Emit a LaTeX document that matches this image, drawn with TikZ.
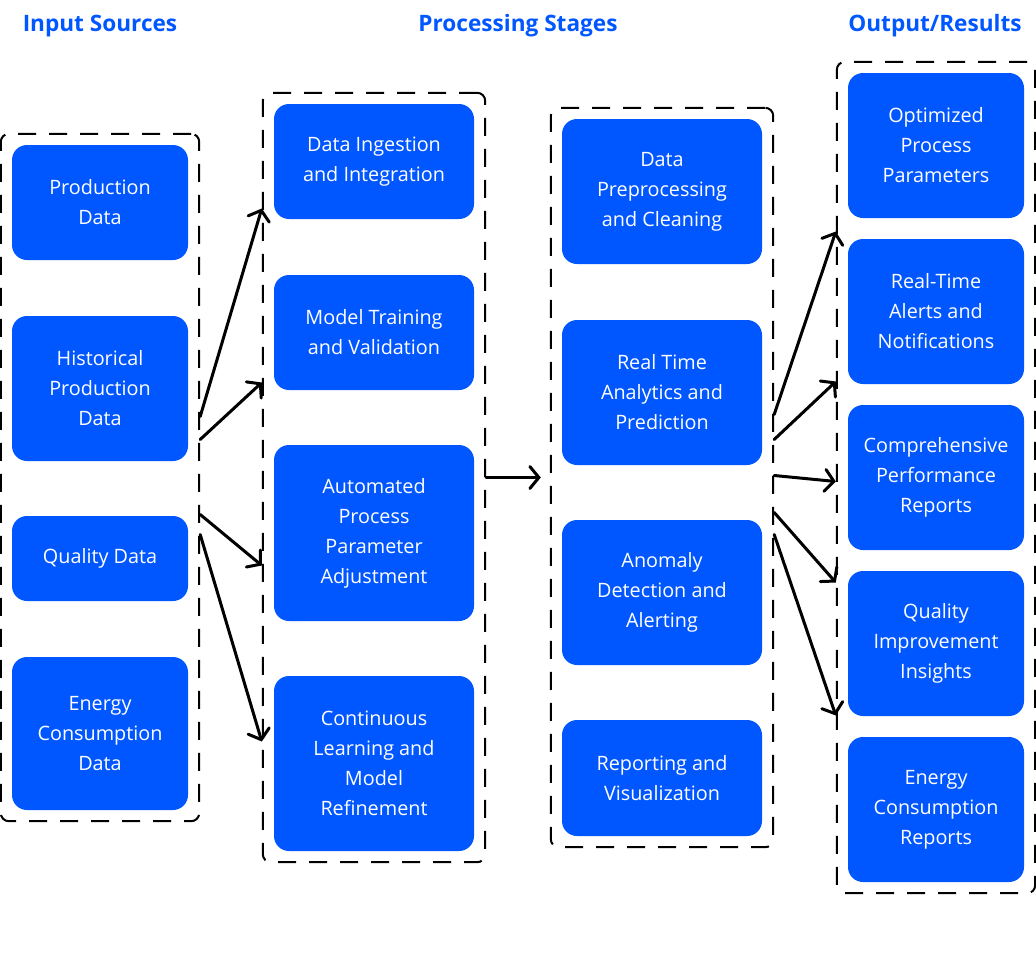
\documentclass[tikz,border=0pt]{standalone}
\usepackage{fontspec}
\setmainfont{Open Sans}
\usepackage{tikz}
\usetikzlibrary{calc,positioning,fit,arrows.meta}
\definecolor{blu}{HTML}{0057FF}
\tikzstyle{stage}   = [rectangle, rounded corners=15pt, fill=blu, text=white,
                       align=center, inner sep=0pt,
                       font=\fontsize{19.8}{30}\selectfont]
\tikzstyle{narrow}  = [stage, minimum width=176pt]
\tikzstyle{wide}    = [stage, minimum width=200pt]
\tikzstyle{group}   = [draw, line width=2pt, dash pattern=on 18pt off 13pt,
                       rounded corners=8pt, inner sep=11pt]
\tikzstyle{heading} = [text=blu, font=\fontsize{22.6}{27}\selectfont\bfseries]
\tikzstyle{ptr}     = [draw, line width=3pt, line cap=round,
                       -{Straight Barb[length=9pt,width=22pt,line cap=round]}]

\begin{document}
\begin{tikzpicture}[x=1pt, y=-1pt]
	\useasboundingbox (0,0) rectangle (1036,956);

	% headings
	\node[heading] (hin)  at (100,26) {Input Sources};
	\node[heading] (hpro) at (518,26) {Processing Stages};
	\node[heading] (hout) at (935,26) {Output/Results};

	% input sources
	\node[narrow, minimum height=115pt] (pd)  at (100,202.5) {Production\\Data};
	\node[narrow, minimum height=145pt] (hpd) at (100,388.5) {Historical\\Production\\Data};
	\node[narrow, minimum height=85pt]  (qd)  at (100,558.5) {Quality Data};
	\node[narrow, minimum height=153pt] (ecd) at (100,733.5) {Energy\\Consumption\\Data};
	\node[group, fit=(pd)(ecd)] (g1) {};

	% processing stages, first column
	\node[wide, minimum height=115pt] (ingest) at (374,161.5) {Data Ingestion\\and Integration};
	\node[wide, minimum height=115pt] (train)  at (374,332.5) {Model Training\\and Validation};
	\node[wide, minimum height=176pt] (adjust) at (374,533)   {Automated\\Process\\Parameter\\Adjustment};
	\node[wide, minimum height=175pt] (learn)  at (374,763.5) {Continuous\\Learning and\\Model\\Refinement};
	\node[group, fit=(ingest)(learn)] (g2) {};

	% processing stages, second column
	\node[wide, minimum height=145pt] (clean)   at (662,191.5) {Data\\Preprocessing\\and Cleaning};
	\node[wide, minimum height=145pt] (predict) at (662,392.5) {Real Time\\Analytics and\\Prediction};
	\node[wide, minimum height=145pt] (anomaly) at (662,592.5) {Anomaly\\Detection and\\Alerting};
	\node[wide, minimum height=116pt] (report)  at (662,778)   {Reporting and\\Visualization};
	\node[group, fit=(clean)(report)] (g3) {};

	% outputs
	\node[narrow, minimum height=145pt] (opt)   at (936,145.5) {Optimized\\Process\\Parameters};
	\node[narrow, minimum height=145pt] (alert) at (936,311.5) {Real-Time\\Alerts and\\Notifications};
	\node[narrow, minimum height=145pt] (perf)  at (936,477.5) {Comprehensive\\Performance\\Reports};
	\node[narrow, minimum height=145pt] (qual)  at (936,643.5) {Quality\\Improvement\\Insights};
	\node[narrow, minimum height=145pt] (ecr)   at (936,809.5) {Energy\\Consumption\\Reports};
	\node[group, fit=(opt)(ecr)] (g4) {};

	% arrows
	\draw[ptr] ([yshift=61pt]g1.east)  -- ([yshift=269pt]g2.west);
	\draw[ptr] ([yshift=38pt]g1.east)  -- ([yshift=95pt]g2.west);
	\draw[ptr] ([yshift=-37pt]g1.east) -- ([yshift=-88pt]g2.west);
	\draw[ptr] ([yshift=-57pt]g1.east) -- ([yshift=-264pt]g2.west);

	\draw[ptr, shorten >=9pt] (g2.east) -- (g3.west);

	\draw[ptr] ([yshift=63pt]g3.east)  -- ([yshift=246pt]g4.west);
	\draw[ptr] ([yshift=38pt]g3.east)  -- ([yshift=96pt]g4.west);
	\draw[ptr] ([yshift=2pt]g3.east)   -- ([yshift=-4pt]g4.west);
	\draw[ptr] ([yshift=-35pt]g3.east) -- ([yshift=-105pt]g4.west);
	\draw[ptr] ([yshift=-57pt]g3.east) -- ([yshift=-238pt]g4.west);
\end{tikzpicture}
\end{document}
